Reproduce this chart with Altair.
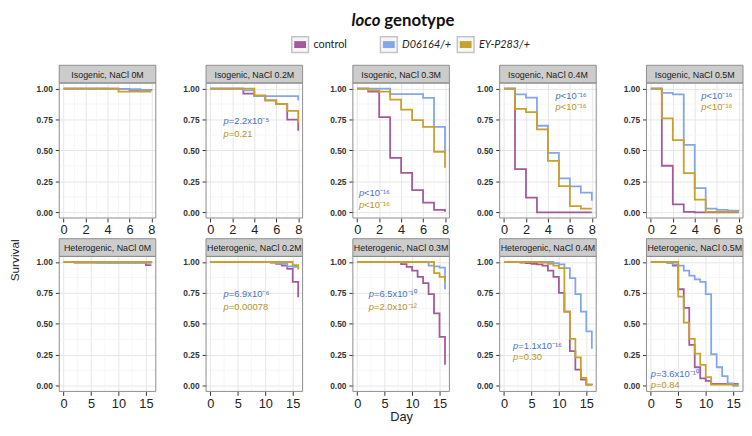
import altair as alt
import pandas as pd

# ---------------- data ----------------
GROUPS = ["control", "D06164/+", "EY-P283/+"]
LINE_COLORS = ["#a35a9a", "#82a6e8", "#c8a02c"]
TEXT_BLUE = "#4a70c4"
TEXT_GOLD = "#b8921c"

DAYS_ISO = [0, 1, 2, 3, 4, 5, 6, 7, 8]
DAYS_HET = [0, 1, 2, 3, 4, 5, 6, 7, 8, 9, 10, 11, 12, 13, 14, 15, 16]

STRIPS_ISO = ["Isogenic, NaCl 0M", "Isogenic, NaCl 0.2M", "Isogenic, NaCl 0.3M",
              "Isogenic, NaCl 0.4M", "Isogenic, NaCl 0.5M"]
STRIPS_HET = ["Heterogenic, NaCl 0M", "Heterogenic, NaCl 0.2M", "Heterogenic, NaCl 0.3M",
              "Heterogenic, NaCl 0.4M", "Heterogenic, NaCl 0.5M"]

# Isogenic (days 0..8)
iso0_ctrl = [1, 1, 1, 1, 1, 0.995, 0.99, 0.99, 0.985]
iso0_d = [1, 1, 1, 1, 0.995, 0.995, 0.995, 0.99, 0.99]
iso0_ey = [1, 1, 1, 1, 1, 0.975, 0.975, 0.975, 0.975]

iso2_ctrl = [1, 1, 1, 0.96, 0.94, 0.905, 0.875, 0.75, 0.66]
iso2_d = [1, 1, 1, 0.985, 0.94, 0.94, 0.94, 0.94, 0.905]
iso2_ey = [1, 1, 1, 1, 0.945, 0.905, 0.875, 0.82, 0.72]

iso3_ctrl = [1, 0.975, 0.77, 0.44, 0.32, 0.18, 0.08, 0.02, 0.005]
iso3_d = [1, 1, 1, 0.955, 0.955, 0.955, 0.925, 0.69, 0.48]
iso3_ey = [1, 0.985, 0.975, 0.91, 0.83, 0.745, 0.69, 0.49, 0.36]

iso4_ctrl = [1, 0.35, 0.12, 0, 0, 0, 0, 0, 0]
iso4_d = [1, 0.953, 0.927, 0.70, 0.48, 0.275, 0.21, 0.16, 0.095]
iso4_ey = [1, 0.836, 0.81, 0.67, 0.416, 0.213, 0.05, 0.03, 0.03]

iso5_ctrl = [1, 0.377, 0.065, 0.005, 0, 0, 0, 0, 0]
iso5_d = [1, 0.966, 0.953, 0.545, 0.197, 0.03, 0.02, 0.015, 0.01]
iso5_ey = [1, 0.76, 0.584, 0.317, 0.104, 0.005, 0.005, 0.005, 0.005]

# Heterogenic (days 0..16)
het0_ctrl = [1, 1, 0.995, 0.995, 0.995, 0.995, 0.995, 0.995, 0.995, 0.995, 0.995, 0.995, 0.995, 0.995, 0.995, 0.975, 0.975]
het0_d = [1, 1, 1, 1, 1, 1, 0.993, 0.993, 0.993, 0.993, 0.993, 0.993, 0.993, 0.993, 0.993, 0.993, 0.99]
het0_ey = [1, 1, 1, 1, 1, 1, 1, 1, 1, 1, 1, 1, 1, 1, 1, 1, 0.995]

het2_ctrl = [1, 1, 1, 1, 1, 1, 1, 1, 1, 1, 1, 0.995, 0.985, 0.97, 0.945, 0.84, 0.715]
het2_d = [1, 1, 1, 1, 1, 1, 1, 1, 1, 1, 1, 1, 0.99, 0.985, 0.965, 0.96, 0.955]
het2_ey = [1, 1, 1, 1, 1, 1, 1, 1, 1, 1, 1, 1, 1, 1, 1, 0.975, 0.94]

het3_ctrl = [1, 1, 1, 1, 1, 1, 1, 1, 0.982, 0.96, 0.93, 0.88, 0.83, 0.74, 0.585, 0.395, 0.17]
het3_d = [1, 1, 1, 1, 1, 1, 1, 1, 1, 1, 1, 1, 1, 0.97, 0.965, 0.955, 0.78]
het3_ey = [1, 1, 1, 1, 1, 1, 1, 1, 1, 1, 1, 1, 1, 1, 0.91, 0.88, 0.84]

het4_ctrl = [1, 1, 1, 0.995, 0.99, 0.985, 0.98, 0.97, 0.93, 0.88, 0.75, 0.60, 0.28, 0.13, 0.05, 0.01, 0.005]
het4_d = [1, 1, 1, 1, 1, 1, 1, 1, 1, 0.99, 0.98, 0.95, 0.87, 0.74, 0.60, 0.44, 0.30]
het4_ey = [1, 1, 1, 1, 1, 1, 1, 0.995, 0.985, 0.97, 0.95, 0.60, 0.38, 0.23, 0.065, 0.01, 0.005]

het5_ctrl = [1, 1, 1, 1, 0.97, 0.78, 0.63, 0.33, 0.15, 0.06, 0.04, 0.015, 0.015, 0.015, 0.015, 0.015, 0.015]
het5_d = [1, 1, 1, 0.99, 0.98, 0.97, 0.93, 0.89, 0.86, 0.84, 0.74, 0.255, 0.15, 0.078, 0.02, 0.0, 0.0]
het5_ey = [1, 1, 1, 1, 1, 0.72, 0.51, 0.38, 0.26, 0.17, 0.07, 0.01, 0.01, 0.01, 0.01, 0.01, 0.01]

# p-value annotations: (x, y) anchor in data units, blue text, gold text
P_BLUE_ISO = [None, "=2.2x10⁻⁵", "<10⁻¹⁶", "<10⁻¹⁶", "<10⁻¹⁶"]
P_GOLD_ISO = [None, "=0.21", "<10⁻¹⁶", "<10⁻¹⁶", "<10⁻¹⁶"]
P_BLUE_HET = [None, "=6.9x10⁻⁶", "=6.5x10⁻¹⁰", "=1.1x10⁻¹⁶", "=3.6x10⁻¹⁰"]
P_GOLD_HET = [None, "=0.00078", "=2.0x10⁻¹²", "=0.30", "=0.84"]
P_POS_ISO = [None, (1.2, 0.74, 0.635), (0.15, 0.16, 0.06), (4.7, 0.94, 0.85), (4.6, 0.94, 0.85)]
P_POS_HET = [None, (2.4, 0.74, 0.635), (2.1, 0.74, 0.635), (1.65, 0.325, 0.235), (0.0, 0.095, 0.01)]

ISO_SERIES = [(iso0_ctrl, iso0_d, iso0_ey), (iso2_ctrl, iso2_d, iso2_ey), (iso3_ctrl, iso3_d, iso3_ey),
              (iso4_ctrl, iso4_d, iso4_ey), (iso5_ctrl, iso5_d, iso5_ey)]
HET_SERIES = [(het0_ctrl, het0_d, het0_ey), (het2_ctrl, het2_d, het2_ey), (het3_ctrl, het3_d, het3_ey),
              (het4_ctrl, het4_d, het4_ey), (het5_ctrl, het5_d, het5_ey)]

Y_TICKS = [0, 0.25, 0.5, 0.75, 1]
Y_MINOR = [0.125, 0.375, 0.625, 0.875]
X_TICKS_ISO = [0, 2, 4, 6, 8]
X_MINOR_ISO = [1, 3, 5, 7]
X_TICKS_HET = [0, 5, 10, 15]
X_MINOR_HET = [2.5, 7.5, 12.5]

# ---------------- layout / style ----------------
FONT = "Liberation Sans"
PW, PH, SH = 98, 137, 18
Y_DOMAIN = [-0.045, 1.045]


def panel(strip, days, series, xdom, xticks, xminor, ptexts, ppos, xtitle):
    ctrl, d, ey = series
    rows = []
    for g, vals in zip(GROUPS, (ctrl, d, ey)):
        for t, s in zip(days, vals):
            rows.append({"t": t, "s": s, "g": g})
    df = pd.DataFrame(rows)

    xs = alt.Scale(domain=xdom, nice=False, zero=False)
    ys = alt.Scale(domain=Y_DOMAIN, nice=False, zero=False)
    xax = alt.Axis(values=xticks, title=xtitle, grid=True, gridColor="#e6e6e6", gridWidth=1,
                   domain=False, ticks=True, tickSize=4, tickColor="#333333", tickWidth=1,
                   labelFont=FONT, labelFontSize=13, labelColor="#222222", labelPadding=2,
                   titleFont=FONT, titleFontSize=13, titleFontWeight="normal", titleColor="#222222",
                   titlePadding=1)
    yax = alt.Axis(values=Y_TICKS, format=".2f", title=None, grid=True, gridColor="#e6e6e6",
                   gridWidth=1, domain=False, tickSize=4, tickColor="#333333", tickWidth=1,
                   labelFont=FONT, labelFontSize=8.5, labelFontWeight="bold", labelColor="#333333",
                   labelPadding=3, minExtent=25, maxExtent=25)

    layers = []
    layers.append(alt.Chart(pd.DataFrame({"v": xminor})).mark_rule(color="#f3f3f3", strokeWidth=0.8)
                  .encode(x=alt.X("v:Q", scale=xs, axis=xax)))
    layers.append(alt.Chart(pd.DataFrame({"v": Y_MINOR})).mark_rule(color="#f3f3f3", strokeWidth=0.8)
                  .encode(y=alt.Y("v:Q", scale=ys, axis=yax)))
    layers.append(alt.Chart(df).mark_line(interpolate="step-after", strokeWidth=1.8)
                  .encode(x=alt.X("t:Q", scale=xs, axis=xax),
                          y=alt.Y("s:Q", scale=ys, axis=yax),
                          color=alt.Color("g:N", scale=alt.Scale(domain=GROUPS, range=LINE_COLORS),
                                          legend=None)))
    if ppos is not None:
        px, py_b, py_g = ppos
        for txt, py, col in ((ptexts[0], py_b, TEXT_BLUE), (ptexts[1], py_g, TEXT_GOLD)):
            adf = pd.DataFrame({"x": [px], "y": [py], "p": ["p"], "r": [txt]})
            layers.append(alt.Chart(adf).mark_text(align="left", baseline="middle", font=FONT,
                                                   fontSize=9.5, fontStyle="italic", color=col)
                          .encode(x=alt.X("x:Q", scale=xs, axis=xax), y=alt.Y("y:Q", scale=ys, axis=yax),
                                  text="p:N"))
            layers.append(alt.Chart(adf).mark_text(align="left", baseline="middle", font=FONT,
                                                   fontSize=9.5, dx=5.3, color=col)
                          .encode(x=alt.X("x:Q", scale=xs, axis=xax), y=alt.Y("y:Q", scale=ys, axis=yax),
                                  text="r:N"))
    sdf = pd.DataFrame({"s": [strip]})
    layers.append(alt.Chart(sdf).mark_rect(fill="#cccccc", stroke="#8c8c8c", strokeWidth=1)
                  .encode(x=alt.value(0), x2=alt.value(PW), y=alt.value(-SH), y2=alt.value(0)))
    layers.append(alt.Chart(sdf).mark_text(font=FONT, fontSize=9, color="#1a1a1a", baseline="middle")
                  .encode(x=alt.value(PW / 2), y=alt.value(-SH / 2 + 0.5), text="s:N"))
    layers.append(alt.Chart(sdf).mark_rect(fill="transparent", stroke="#8c8c8c", strokeWidth=1)
                  .encode(x=alt.value(0), x2=alt.value(PW), y=alt.value(0), y2=alt.value(PH)))
    return alt.layer(*layers).properties(width=PW, height=PH)


row1 = alt.hconcat(*[
    panel(STRIPS_ISO[i], DAYS_ISO, ISO_SERIES[i], [-0.4, 8.4], X_TICKS_ISO, X_MINOR_ISO,
          (P_BLUE_ISO[i], P_GOLD_ISO[i]), P_POS_ISO[i], None)
    for i in range(5)], spacing=24)
row2 = alt.hconcat(*[
    panel(STRIPS_HET[i], DAYS_HET, HET_SERIES[i], [-0.8, 16.8], X_TICKS_HET, X_MINOR_HET,
          (P_BLUE_HET[i], P_GOLD_HET[i]), P_POS_HET[i], "Day" if i == 2 else None)
    for i in range(5)], spacing=24)
grid = alt.vconcat(row1, row2, spacing=0)

one = pd.DataFrame({"k": [0]})
survival = (alt.Chart(one).mark_text(font=FONT, fontSize=12, angle=270, align="center",
                                     baseline="middle", color="#222222")
            .encode(x=alt.value(6), y=alt.value(180), text=alt.value("Survival"))
            .properties(width=12, height=320))

body = alt.hconcat(survival, grid, spacing=12)

# header: title + legend
HW, HH = 735, 48
LEG_X = [287, 377, 455]
LEG_Y = 33
hl = []
hl.append(alt.Chart(one).mark_text(font="Lato", fontSize=17, fontWeight="bold", fontStyle="italic",
                                   align="right", baseline="middle", color="#111111")
          .encode(x=alt.value(377), y=alt.value(9), text=alt.value("loco")))
hl.append(alt.Chart(one).mark_text(font="Lato", fontSize=17, fontWeight="bold",
                                   align="left", baseline="middle", color="#111111")
          .encode(x=alt.value(381), y=alt.value(9), text=alt.value("genotype")))
for i, g in enumerate(GROUPS):
    lx = LEG_X[i]
    hl.append(alt.Chart(one).mark_rect(fill="#f7f7f7", stroke="#c4c4c4", strokeWidth=1.5)
              .encode(x=alt.value(lx), x2=alt.value(lx + 17), y=alt.value(LEG_Y - 8), y2=alt.value(LEG_Y + 8)))
    hl.append(alt.Chart(one).mark_rect(fill=LINE_COLORS[i])
              .encode(x=alt.value(lx + 2.5), x2=alt.value(lx + 14.5), y=alt.value(LEG_Y - 3.5),
                      y2=alt.value(LEG_Y + 3.5)))
    hl.append(alt.Chart(one).mark_text(font="Lato", fontSize=11, align="left", baseline="middle",
                                       color="#222222", fontStyle="normal" if i == 0 else "italic")
              .encode(x=alt.value(lx + 22), y=alt.value(LEG_Y), text=alt.value(g)))
header = alt.layer(*hl).properties(width=HW, height=HH)

chart = (alt.vconcat(header, body, spacing=4)
         .properties(padding={"left": 0, "top": 0, "right": 0, "bottom": 0})
         .configure_view(stroke="transparent"))

chart.save("out.html", embed_options={"renderer": "svg", "actions": False})
